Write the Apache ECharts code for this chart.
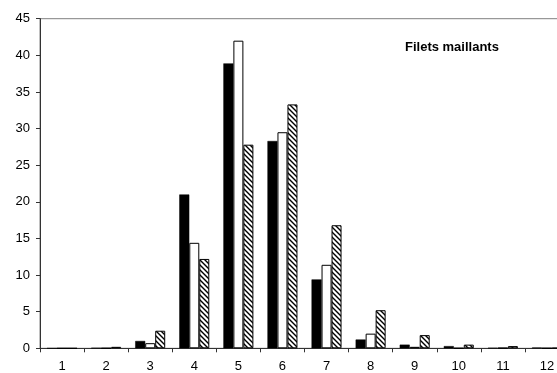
<!DOCTYPE html>
<html>
<head>
<meta charset="utf-8">
<script src="https://cdn.jsdelivr.net/npm/echarts@6/dist/echarts.min.js"></script>
<style>html,body{margin:0;padding:0;background:#fff;overflow:hidden}#c{width:557px;height:373px}</style>
</head>
<body>
<div id="c"></div>
<script>
const categories = ['1','2','3','4','5','6','7','8','9','10','11','12'];
const seriesBlack = [0, 0.05, 1.0, 21.0, 38.9, 28.3, 9.4, 1.2, 0.5, 0.3, 0.05, 0.1];
const seriesWhite = [0, 0.02, 0.7, 14.4, 42.0, 29.5, 11.4, 2.0, 0.2, 0.02, 0.05, 0.02];
const seriesHatch = [0, 0.2, 2.4, 12.2, 27.8, 33.3, 16.8, 5.2, 1.8, 0.5, 0.3, 0.05];
const yTicks = [0, 5, 10, 15, 20, 25, 30, 35, 40, 45];
const titleText = 'Filets maillants';

function hatch() {
  const c = document.createElement('canvas');
  c.width = 5; c.height = 5;
  const g = c.getContext('2d');
  g.fillStyle = '#fff'; g.fillRect(0, 0, 5, 5);
  g.strokeStyle = '#000'; g.lineWidth = 1.4;
  g.beginPath();
  g.moveTo(-1, -1); g.lineTo(6, 6);
  g.moveTo(-6, -1); g.lineTo(1, 6);
  g.moveTo(4, -1); g.lineTo(11, 6);
  g.stroke();
  return c;
}

const chart = echarts.init(document.getElementById('c'), null, {renderer: 'canvas'});
const font = 'Liberation Sans, Arial, sans-serif';
chart.setOption({
  animation: false,
  title: {
    text: titleText, left: 400, top: 36,
    textStyle: {fontFamily: font, fontSize: 13, fontWeight: 'bold', color: '#000'}
  },
  grid: {left: 40, width: 529, top: 18.7, height: 329.6, outerBoundsMode: 'none', containLabel: false,
         show: true, borderColor: '#808080', borderWidth: 1},
  xAxis: {
    type: 'category', data: categories,
    axisLine: {lineStyle: {color: '#333', width: 1}},
    axisTick: {show: true, alignWithLabel: false, length: 4, inside: false, lineStyle: {color: '#333'}},
    axisLabel: {fontFamily: font, fontSize: 13, color: '#000', margin: 12}
  },
  yAxis: {
    type: 'value', min: yTicks[0], max: yTicks[yTicks.length - 1], interval: 5,
    axisLine: {show: true, lineStyle: {color: '#333', width: 1}},
    axisTick: {show: true, length: 4, lineStyle: {color: '#333'}},
    splitLine: {show: false},
    axisLabel: {fontFamily: font, fontSize: 13, color: '#000', margin: 10}
  },
  series: [
    {type: 'bar', data: seriesBlack, barWidth: 10, barGap: '0%',
     itemStyle: {color: '#000', borderColor: '#000', borderWidth: 0.5}},
    {type: 'bar', data: seriesWhite, barWidth: 10, barGap: '0%',
     itemStyle: {color: '#fff', borderColor: '#000', borderWidth: 1}},
    {type: 'bar', data: seriesHatch, barWidth: 10, barGap: '0%',
     itemStyle: {color: {image: hatch(), repeat: 'repeat'}, borderColor: '#000', borderWidth: 1}}
  ]
});
</script>
</body>
</html>
